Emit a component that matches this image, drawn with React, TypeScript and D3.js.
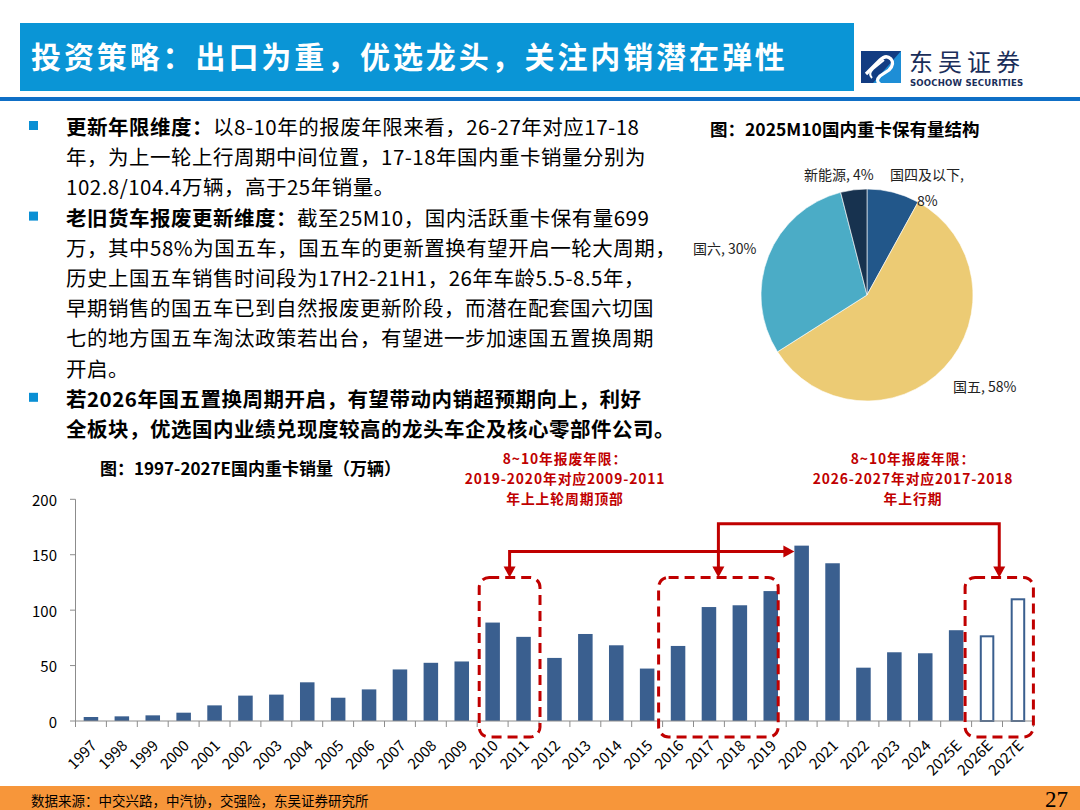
import React, { useEffect } from 'react';
import * as d3 from 'd3';

const CJK = '"Noto Sans CJK SC", "Noto Sans", sans-serif';

const titleText = '投资策略：出口为重，优选龙头，关注内销潜在弹性';

const years = ['1997','1998','1999','2000','2001','2002','2003','2004','2005','2006','2007','2008','2009','2010','2011','2012','2013','2014','2015','2016','2017','2018','2019','2020','2021','2022','2023','2024','2025E','2026E','2027E'];
const sales = [3.6,4.2,5.1,7.5,14.1,22.9,23.8,34.9,21.0,28.5,46.5,52.5,53.7,88.8,75.9,56.9,78.5,68.3,47.3,67.7,102.8,104.4,117.2,158.2,142.3,48.1,62.0,61.1,81.9,77.3,110.7];
const hollowYears = ['2026E','2027E'];
const yTicks = [0, 50, 100, 150, 200];

const pieLabels = ['国四及以下', '国五', '国六', '新能源'];
const pieValues = [8, 58, 30, 4];
const pieColors = ['#22578A', '#ECCB74', '#4BACC6', '#17324F'];

const noteLeft = ['8~10年报废年限：', '2019-2020年对应2009-2011', '年上上轮周期顶部'];
const noteRight = ['8~10年报废年限：', '2026-2027年对应2017-2018', '年上行期'];

type Seg = { t: string; b?: boolean };
const bodyLines: { segs: Seg[]; bullet?: boolean }[] = [
  { bullet: true, segs: [{ t: '更新年限维度：', b: true }, { t: '以8-10年的报废年限来看，26-27年对应17-18' }] },
  { segs: [{ t: '年，为上一轮上行周期中间位置，17-18年国内重卡销量分别为' }] },
  { segs: [{ t: '102.8/104.4万辆，高于25年销量。' }] },
  { bullet: true, segs: [{ t: '老旧货车报废更新维度：', b: true }, { t: '截至25M10，国内活跃重卡保有量699' }] },
  { segs: [{ t: '万，其中58%为国五车，国五车的更新置换有望开启一轮大周期，' }] },
  { segs: [{ t: '历史上国五车销售时间段为17H2-21H1，26年车龄5.5-8.5年，' }] },
  { segs: [{ t: '早期销售的国五车已到自然报废更新阶段，而潜在配套国六切国' }] },
  { segs: [{ t: '七的地方国五车淘汰政策若出台，有望进一步加速国五置换周期' }] },
  { segs: [{ t: '开启。' }] },
  { bullet: true, segs: [{ t: '若2026年国五置换周期开启，有望带动内销超预期向上，利好', b: true }] },
  { segs: [{ t: '全板块，优选国内业绩兑现度较高的龙头车企及核心零部件公司。', b: true }] },
];

const RED = '#C00000';
const BAR = '#3A5F8F';

export default function App() {
  useEffect(() => {
    document.body.style.margin = '0';
  }, []);

  // bar chart scales
  const x = d3.scaleBand<string>().domain(years).range([75.5, 1033.4]).paddingInner(0.53).paddingOuter(0.265);
  const y = d3.scaleLinear().domain([0, 200]).range([721, 499.3]);
  const step = x.step();
  const bandStart = (d: string) => (x(d) as number) - step * 0.265;
  const bandEnd = (d: string) => bandStart(d) + step;
  const bw = x.bandwidth();

  const tickXs = years.map(bandStart).concat([bandEnd(years[years.length - 1])]);

  const boxes = [
    { from: '2010', to: '2011', dl: 2, dr: 1 },
    { from: '2016', to: '2019', dl: -4, dr: -8 },
    { from: '2026E', to: '2027E', dl: -6.5, dr: 0 },
  ].map((b) => {
    const l = bandStart(b.from) + b.dl;
    const r = bandEnd(b.to) + b.dr;
    return { l, r, c: (l + r) / 2 };
  });
  const boxTop = y(129.5);
  const boxBottom = y(0) + 16;

  const line1Y = y(153);
  const line2Y = y(178);
  const arrowTipX = x('2020') as number;

  // pie
  const cx = 867, cy = 295, R = 106;
  const arcs = d3.pie<number>().sort(null).startAngle(0).endAngle(2 * Math.PI)(pieValues);
  const arcGen = d3.arc<d3.PieArcDatum<number>>().innerRadius(0).outerRadius(R);

  const downHead = (px: number, py: number) => `M${px - 6},${py - 11} L${px + 6},${py - 11} L${px},${py} Z`;
  const rightHead = (px: number, py: number) => `M${px - 11},${py - 6} L${px - 11},${py + 6} L${px},${py} Z`;

  return (
    <svg width={1080} height={810} viewBox="0 0 1080 810" style={{ position: 'absolute', left: 0, top: 0, display: 'block', background: '#fff' }}>
      {/* header */}
      <rect x={20} y={23} width={834} height={68} fill="#0A95D6" />
      <text x={31} y={68} fill="#fff" fontFamily={CJK} fontWeight={700} fontSize={30} letterSpacing={2.9}>{titleText}</text>
      <rect x={0} y={97} width={1080} height={4} fill="#0F6FC6" />
      {/* logo */}
      <g>
        <rect x={861} y={51} width={40} height={32} fill="#123C82" />
        <path d="M873,83 L901,51 L901,83 Z" fill="#1E8ED6" />
        <path d="M866,74 L880,60 Q886,54 891,59 Q895,64 889,70 L880,76 Q875,81 880,84" stroke="#fff" strokeWidth={3.2} fill="none" />
        <path d="M872,78 Q868,74 873,69 L884,60" stroke="#fff" strokeWidth={2} fill="none" />
        <text x={909} y={71} fill="#1A2E5A" fontFamily={CJK} fontSize={24} letterSpacing={5}>东吴证券</text>
        <text x={910} y={86} fill="#1A2E5A" fontFamily='"DejaVu Sans Condensed", "DejaVu Sans", sans-serif' fontWeight={700} fontSize={9.5} letterSpacing={0.2}>SOOCHOW SECURITIES</text>
      </g>

      {/* body text */}
      {bodyLines.map((ln, i) => {
        const ty = 126 + i * 30.2;
        return (
          <g key={i}>
            {ln.bullet && <rect x={29} y={ty - 5} width={9} height={9} fill="#0A8FD4" />}
            <text x={66} y={ty} dominantBaseline="central" fontFamily={CJK} fontSize={20.5} letterSpacing={0.5} fill="#000">
              {ln.segs.map((s, j) => (
                <tspan key={j} fontWeight={s.b ? 700 : 400}>{s.t}</tspan>
              ))}
            </text>
          </g>
        );
      })}

      {/* pie chart */}
      <text x={710} y={128} dominantBaseline="central" fontFamily={CJK} fontWeight={700} fontSize={17.5} fill="#000">图：2025M10国内重卡保有量结构</text>
      <g transform={`translate(${cx},${cy})`}>
        {arcs.map((a, i) => (
          <path key={i} d={arcGen(a) as string} fill={pieColors[i]} stroke="#fff" strokeWidth={0.6} />
        ))}
      </g>
      <g fontFamily={CJK} fontSize={14} fill="#222">
        <text x={804} y={174} dominantBaseline="central">{`${pieLabels[3]}, ${pieValues[3]}%`}</text>
        <text x={890} y={174} dominantBaseline="central">{`${pieLabels[0]},`}</text>
        <text x={917} y={200} dominantBaseline="central">{`${pieValues[0]}%`}</text>
        <text x={693} y={248} dominantBaseline="central">{`${pieLabels[2]}, ${pieValues[2]}%`}</text>
        <text x={953} y={386} dominantBaseline="central">{`${pieLabels[1]}, ${pieValues[1]}%`}</text>
      </g>

      {/* bar chart */}
      <text x={100} y={467} dominantBaseline="central" fontFamily={CJK} fontWeight={700} fontSize={17} fill="#000">图：1997-2027E国内重卡销量（万辆）</text>
      {/* y axis */}
      <line x1={75.5} x2={75.5} y1={y(200)} y2={y(0)} stroke="#8C8C8C" strokeWidth={1} />
      {yTicks.map((t) => (
        <g key={t}>
          <line x1={70} x2={75.5} y1={y(t)} y2={y(t)} stroke="#8C8C8C" />
          <text x={57} y={y(t)} textAnchor="end" dominantBaseline="central" fontFamily={CJK} fontSize={15} fill="#000">{t}</text>
        </g>
      ))}
      {/* bars */}
      {years.map((yr, i) => {
        const hollow = hollowYears.includes(yr);
        return hollow ? (
          <rect key={yr} x={(x(yr) as number) + 1} y={y(sales[i]) + 1} width={bw - 2} height={y(0) - y(sales[i]) - 1} fill="#fff" stroke={BAR} strokeWidth={2} />
        ) : (
          <rect key={yr} x={x(yr)} y={y(sales[i])} width={bw} height={y(0) - y(sales[i])} fill={BAR} />
        );
      })}
      {/* x axis */}
      <line x1={75.5} x2={tickXs[tickXs.length - 1]} y1={y(0)} y2={y(0)} stroke="#8C8C8C" />
      {tickXs.map((tx, i) => (
        <line key={i} x1={tx} x2={tx} y1={y(0)} y2={y(0) + 6} stroke="#8C8C8C" />
      ))}
      {years.map((yr) => (
        <text key={yr} transform={`translate(${(x(yr) as number) + bw / 2 + 2},${y(0) + 21}) rotate(-45)`} textAnchor="end" dominantBaseline="central" fontFamily={CJK} fontSize={15} fill="#000">{yr}</text>
      ))}

      {/* annotations */}
      {boxes.map((b, i) => (
        <rect key={i} x={b.l} y={boxTop} width={b.r - b.l} height={boxBottom - boxTop} rx={10} ry={10} fill="none" stroke={RED} strokeWidth={3} strokeDasharray="10 6" />
      ))}
      <g stroke={RED} strokeWidth={3} fill="none">
        <polyline points={`${boxes[0].c},${boxTop - 10} ${boxes[0].c},${line1Y} ${arrowTipX - 10},${line1Y}`} />
        <polyline points={`${boxes[1].c},${boxTop - 10} ${boxes[1].c},${line2Y} ${boxes[2].c},${line2Y} ${boxes[2].c},${boxTop - 10}`} />
      </g>
      <g fill={RED}>
        <path d={downHead(boxes[0].c, boxTop)} />
        <path d={downHead(boxes[1].c, boxTop)} />
        <path d={downHead(boxes[2].c, boxTop)} />
        <path d={rightHead(arrowTipX, line1Y)} />
      </g>
      <g fontFamily={CJK} fontWeight={700} fontSize={13.8} letterSpacing={0.9} fill={RED} textAnchor="middle">
        {noteLeft.map((t, i) => (
          <text key={i} x={565} y={458 + i * 20} dominantBaseline="central">{t}</text>
        ))}
        {noteRight.map((t, i) => (
          <text key={i} x={913} y={458 + i * 20} dominantBaseline="central">{t}</text>
        ))}
      </g>

      {/* footer */}
      <rect x={0} y={786} width={1080} height={24} fill="#F7963A" />
      <text x={31} y={800} dominantBaseline="central" fontFamily={CJK} fontSize={13.5} fill="#000">数据来源：中交兴路，中汽协，交强险，东吴证券研究所</text>
      <text x={1068} y={799} textAnchor="end" dominantBaseline="central" fontFamily='"Liberation Serif", "DejaVu Serif", serif' fontSize={23} fill="#000">27</text>
    </svg>
  );
}
